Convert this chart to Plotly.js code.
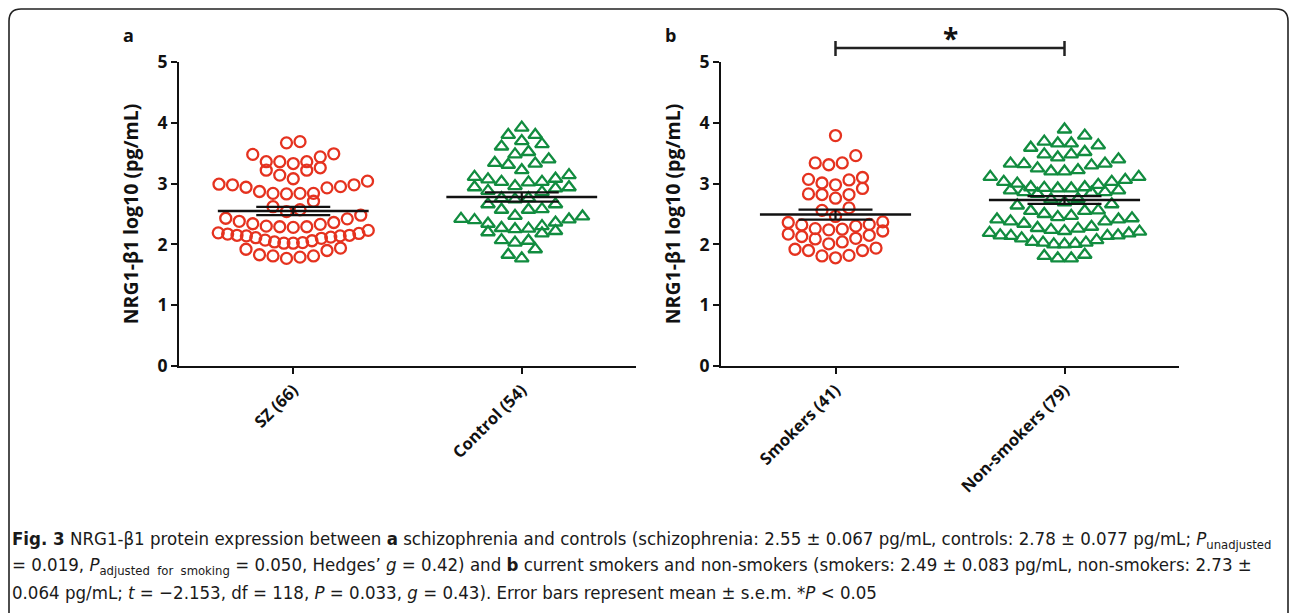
<!DOCTYPE html>
<html>
<head>
<meta charset="utf-8">
<script src="https://cdn.plot.ly/plotly-3.0.1.min.js"></script>
<style>html,body{margin:0;padding:0;background:#fff;}#chart{width:1290px;height:613px;}</style>
</head>
<body>
<div id="chart"></div>
<script>
// ---------- data ----------
const panelACats = ['SZ (66)', 'Control (54)'];
const panelBCats = ['Smokers (41)', 'Non-smokers (79)'];

const szValues = [3.69, 3.67, 3.49, 3.44, 3.48, 3.36, 3.33, 3.36, 3.36, 3.22, 3.22, 3.26, 3.14, 3.08,
  2.99, 2.98, 2.94, 2.87, 2.84, 2.83, 2.84, 2.84, 2.93, 2.95, 2.98, 3.04, 2.71,
  2.62, 2.54, 2.48, 2.57,
  2.42, 2.36, 2.33, 2.29, 2.28, 2.29, 2.30, 2.34, 2.38, 2.43,
  2.19, 2.17, 2.15, 2.14, 2.11, 2.07, 2.04, 2.02, 2.02, 2.03, 2.06, 2.10, 2.12, 2.14, 2.15, 2.18, 2.23,
  1.92, 1.83, 1.81, 1.77, 1.79, 1.81, 1.90, 1.94];

const controlValues = [3.92, 3.80, 3.80, 3.70, 3.65, 3.61, 3.52, 3.48, 3.40, 3.34, 3.31, 3.33, 3.22,
  3.07, 3.03, 3.02, 3.14, 3.11, 3.08, 3.03, 2.96, 2.94, 2.94, 2.92,
  2.88, 2.86,
  2.76, 2.74, 2.66, 2.76, 2.66,
  2.57, 2.57, 2.58,
  2.46, 2.41, 2.36, 2.30, 2.34, 2.40, 2.42, 2.47,
  2.26, 2.22, 2.18, 2.27, 2.25, 2.20,
  2.06, 2.03, 2.07,
  1.92, 1.83, 1.77];

const smokerValues = [3.79, 3.46, 3.34, 3.31, 3.34,
  2.98, 3.07, 3.06, 3.10, 2.92, 3.01,
  2.83, 2.82, 2.82, 2.76,
  2.60, 2.56,
  2.46, 2.36, 2.32, 2.22, 2.15, 2.10, 2.26, 2.24, 2.25, 2.30, 2.33, 2.37, 2.17, 2.13, 2.09, 2.01, 2.04,
  1.94, 1.90, 1.82, 1.78, 1.81, 1.90, 1.92];

const nonSmokerValues = [3.89, 3.79,
  3.69, 3.66, 3.59, 3.63, 3.66,
  3.48, 3.48, 3.52,
  3.40, 3.33, 3.30, 3.33, 3.43,
  3.22, 3.20, 3.20, 3.25, 3.32,
  3.11, 3.06, 3.03, 2.98, 2.94, 3.00, 3.03, 3.11,
  2.93, 2.92, 2.89, 2.85, 2.83, 2.74, 2.75, 2.86, 2.86, 2.89, 2.92, 2.94,
  2.69, 2.64, 2.66,
  2.55, 2.50, 2.47, 2.55, 2.56,
  2.45, 2.41, 2.38, 2.34, 2.38, 2.41, 2.43,
  2.27, 2.22, 2.24, 2.21, 2.26, 2.29,
  2.19, 2.15, 2.14, 2.10, 2.03, 2.01, 2.00, 2.00, 2.03, 2.04, 2.07, 2.14, 2.15, 2.18,
  1.81, 1.77, 1.77, 1.83];

const panelAMeans = [2.55, 2.78];
const panelASems = [0.067, 0.077];
const panelBMeans = [2.49, 2.73];
const panelBSems = [0.083, 0.064];

const yTickVals = [0, 1, 2, 3, 4, 5];
const yTitle = 'NRG1-β1 log10 (pg/mL)';

// ---------- layout geometry ----------
const W = 1290, H = 613;
const pxX = v => v / W;
const pxY = v => 1 - v / H;
const xDomA = [pxX(179), pxX(636)];
const xDomB = [pxX(721), pxX(1179)];
const yDom = [pxY(366), pxY(62)];
const xRange = [-0.5, 1.5];
const RED = '#e5321f', GREEN = '#118c3f';

// column-scatter (beeswarm-like) horizontal offsets, computed from the values
function swarmOffsets(vals, xDom) {
  const pxPerUnit = (xDom[1] - xDom[0]) * W / (xRange[1] - xRange[0]);
  const idx = vals.map((v, i) => i).sort((a, b) => vals[a] - vals[b]);
  const off = new Array(vals.length).fill(0);
  const h = 0.21, maxW = 150, gap = 13.5;
  let i = 0;
  while (i < idx.length) {
    const start = vals[idx[i]];
    let j = i;
    while (j < idx.length && vals[idx[j]] - start <= h + 1e-9) j++;
    const row = idx.slice(i, j), n = row.length;
    const s = n > 1 ? Math.min(gap, maxW / (n - 1)) : 0;
    const slots = [];
    for (let k = 0; k < n; k++) slots.push((k - (n - 1) / 2) * s);
    slots.sort((a, b) => Math.abs(a) - Math.abs(b) || a - b);
    row.forEach((p, k) => { off[p] = slots[k] / pxPerUnit; });
    i = j;
  }
  return off;
}

function groupTrace(vals, catIndex, xa, ya, xDom, symbol, color, name) {
  const off = swarmOffsets(vals, xDom);
  return {
    type: 'scatter', mode: 'markers', name: name, xaxis: xa, yaxis: ya,
    x: vals.map((v, i) => catIndex + off[i]), y: vals,
    marker: { symbol: symbol, size: symbol === 'circle-open' ? 11 : 12, color: color, line: { width: 2.3, color: color } },
    hoverinfo: 'y', cliponaxis: false
  };
}

function errTrace(means, sems, xa, ya) {
  return {
    type: 'scatter', mode: 'markers', xaxis: xa, yaxis: ya,
    x: means.map((m, i) => i), y: means,
    marker: { size: 1, color: 'rgba(0,0,0,0)' },
    error_y: { type: 'data', array: sems, visible: true, color: '#111', thickness: 2.2, width: 37 },
    hoverinfo: 'skip'
  };
}

const traces = [
  groupTrace(szValues, 0, 'x', 'y', xDomA, 'circle-open', RED, panelACats[0]),
  groupTrace(controlValues, 1, 'x', 'y', xDomA, 'triangle-up-open', GREEN, panelACats[1]),
  groupTrace(smokerValues, 0, 'x2', 'y2', xDomB, 'circle-open', RED, panelBCats[0]),
  groupTrace(nonSmokerValues, 1, 'x2', 'y2', xDomB, 'triangle-up-open', GREEN, panelBCats[1]),
  errTrace(panelAMeans, panelASems, 'x', 'y'),
  errTrace(panelBMeans, panelBSems, 'x2', 'y2')
];

const shapes = [];
function meanLines(means, xref, yref) {
  means.forEach((m, i) => shapes.push({ type: 'line', xref: xref, yref: yref, x0: i - 0.33, x1: i + 0.33, y0: m, y1: m, line: { color: '#111', width: 2.5 } }));
}
meanLines(panelAMeans, 'x', 'y');
meanLines(panelBMeans, 'x2', 'y2');

// significance bracket between the two panel-b groups
const barY = pxY(48), capTop = pxY(41), capBot = pxY(56);
shapes.push({ type: 'line', xref: 'x2', yref: 'paper', x0: 0, x1: 1, y0: barY, y1: barY, line: { color: '#222', width: 2.5 } });
[0, 1].forEach(i => shapes.push({ type: 'line', xref: 'x2', yref: 'paper', x0: i, x1: i, y0: capTop, y1: capBot, line: { color: '#222', width: 2.5 } }));

// figure frame with rounded top corners
(function () {
  const l = pxX(9), r = pxX(1288), t = pxY(9), b = pxY(640);
  const rx = 12 / W, ry = 12 / H;
  shapes.push({
    type: 'path', xref: 'paper', yref: 'paper', layer: 'below',
    path: `M ${l} ${b} L ${l} ${t - ry} Q ${l} ${t} ${l + rx} ${t} L ${r - rx} ${t} Q ${r} ${t} ${r} ${t - ry} L ${r} ${b}`,
    line: { color: '#222', width: 1.6 }
  });
})();

const tickFont = { family: 'Open Sans, Liberation Sans, sans-serif', size: 16.5, color: '#111', weight: 700 };
function xAxis(dom, cats, anchor) {
  return {
    domain: dom, range: xRange, anchor: anchor, tickmode: 'array', tickvals: cats.map((c, i) => i), ticktext: cats,
    tickangle: -45, showline: true, linewidth: 2, linecolor: '#111', ticks: 'outside', ticklen: 6, tickwidth: 2, tickcolor: '#111',
    showgrid: false, zeroline: false, tickfont: tickFont, automargin: false, fixedrange: true
  };
}
function yAxis(anchor) {
  return {
    domain: yDom, range: [0, 5], anchor: anchor, tickmode: 'array', tickvals: yTickVals,
    showline: true, linewidth: 2, linecolor: '#111', ticks: 'outside', ticklen: 6, tickwidth: 2, tickcolor: '#111',
    showgrid: false, zeroline: false, tickfont: Object.assign({}, tickFont, { size: 17.5 }), automargin: false, fixedrange: true,
    title: { text: yTitle, font: { family: 'Open Sans, Liberation Sans, sans-serif', size: 19.5, color: '#111', weight: 700 }, standoff: 14 }
  };
}

const capFont = { family: 'Liberation Sans Narrow, DejaVu Sans Condensed, Liberation Sans, sans-serif', size: 18.5, color: '#1a1a1a' };
const captionLines = [
  '<b>Fig. 3</b> NRG1-β1 protein expression between <b>a</b> schizophrenia and controls (schizophrenia: 2.55 ± 0.067 pg/mL, controls: 2.78 ± 0.077 pg/mL; <i>P</i><sub>unadjusted</sub>',
  '= 0.019, <i>P</i><sub>adjusted  for  smoking</sub> = 0.050, Hedges’ <i>g</i> = 0.42) and <b>b</b> current smokers and non-smokers (smokers: 2.49 ± 0.083 pg/mL, non-smokers: 2.73 ±',
  '0.064 pg/mL; <i>t</i> = −2.153, df = 118, <i>P</i> = 0.033, <i>g</i> = 0.43). Error bars represent mean ± s.e.m. *<i>P</i> &lt; 0.05'
];
const captionY = [540, 566, 592];

const annotations = [
  { xref: 'paper', yref: 'paper', x: pxX(128), y: pxY(35), text: '<b>a</b>', showarrow: false, xanchor: 'center', yanchor: 'middle', font: { family: 'Open Sans, sans-serif', size: 18, color: '#111' } },
  { xref: 'paper', yref: 'paper', x: pxX(670), y: pxY(35), text: '<b>b</b>', showarrow: false, xanchor: 'center', yanchor: 'middle', font: { family: 'Open Sans, sans-serif', size: 18, color: '#111' } },
  { xref: 'x2', yref: 'paper', x: 0.5, y: pxY(38), text: '<b>*</b>', showarrow: false, xanchor: 'center', yanchor: 'middle', font: { family: 'Open Sans, sans-serif', size: 28, color: '#111' } }
].concat(captionLines.map((t, i) => ({
  xref: 'paper', yref: 'paper', x: pxX(10), y: pxY(captionY[i]), text: t, showarrow: false, xanchor: 'left', yanchor: 'middle', align: 'left', font: capFont
})));

const layout = {
  width: W, height: H, margin: { l: 0, r: 0, t: 0, b: 0 },
  paper_bgcolor: '#fff', plot_bgcolor: 'rgba(0,0,0,0)', showlegend: false,
  xaxis: xAxis(xDomA, panelACats, 'y'), yaxis: yAxis('x'),
  xaxis2: xAxis(xDomB, panelBCats, 'y2'), yaxis2: yAxis('x2'),
  shapes: shapes, annotations: annotations
};

Plotly.newPlot('chart', traces, layout, { displayModeBar: false, staticPlot: true });
</script>
</body>
</html>
